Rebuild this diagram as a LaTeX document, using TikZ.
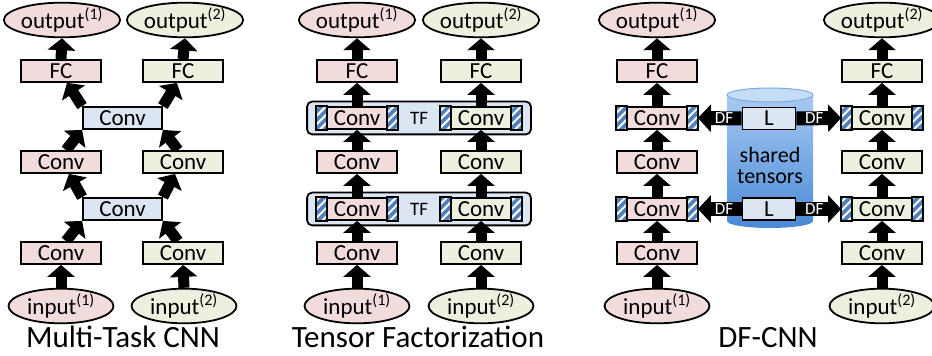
\documentclass[tikz,border=0pt]{standalone}
\usepackage{fontspec}
\setmainfont{Carlito}
\usetikzlibrary{arrows.meta,shapes.geometric,patterns.meta,backgrounds,fit}

\definecolor{taskA}{HTML}{F2DCDB}
\definecolor{taskB}{HTML}{EBF1DE}
\definecolor{shared}{HTML}{DCE6F2}
\definecolor{stripe}{HTML}{4F81BD}
\definecolor{tankTop}{HTML}{C5DCF6}
\definecolor{tankEdge}{HTML}{7FA9DE}
\definecolor{tankLight}{HTML}{A8C9F2}
\definecolor{tankDark}{HTML}{4A89D6}

\tikzset{
  netbox/.style={draw, line width=1.8pt, minimum width=80pt, minimum height=22pt,
    inner sep=0pt, font=\fontsize{23}{23}\selectfont},
  io/.style={draw, ellipse, line width=1.8pt, minimum width=105pt, minimum height=29pt,
    inner sep=0pt, font=\fontsize{23}{23}\selectfont},
  flow/.style={line width=11pt, -{Triangle[length=12pt,width=27pt]}},
  dfarrow/.style={line width=14pt, -{Triangle[length=13pt,width=27pt]}},
  hatch/.style={draw, line width=1.8pt, preaction={fill=stripe},
    pattern={Lines[angle=45,distance=6pt,line width=2pt]}, pattern color=white},
  tfgroup/.style={draw, fill=shared, line width=1.8pt, rounded corners=5pt,
    inner xsep=9pt, inner ysep=4.5pt},
  paneltitle/.style={anchor=base, font=\fontsize{31}{31}\selectfont},
}

% striped ends of a factorized / shared layer
\newcommand{\hatchends}[1]{%
  \draw[hatch] (#1.north west) rectangle ([xshift=11pt]#1.south west);
  \draw[hatch] (#1.north east) rectangle ([xshift=-11pt]#1.south east);}

\begin{document}
\begin{tikzpicture}[x=1pt,y=1pt]
  \useasboundingbox (0,0) rectangle (932,356);

  % --- multi-task CNN
  \node[io, fill=taskA] (in1) at (61,50) {input\textsuperscript{(1)}};
  \node[io, fill=taskB] (in2) at (184,50) {input\textsuperscript{(2)}};
  \node[netbox, fill=taskA] (c1a) at (61,103) {Conv};
  \node[netbox, fill=taskB] (c1b) at (183,103) {Conv};
  \node[netbox, fill=shared, minimum width=79pt] (s1) at (122.5,147) {Conv};
  \node[netbox, fill=taskA] (c2a) at (61,194) {Conv};
  \node[netbox, fill=taskB] (c2b) at (183,194) {Conv};
  \node[netbox, fill=shared, minimum width=79pt] (s2) at (122.5,238) {Conv};
  \node[netbox, fill=taskA] (fc1a) at (61,285) {FC};
  \node[netbox, fill=taskB] (fc1b) at (183,285) {FC};
  \node[io, fill=taskA] (out1a) at (62,336) {output\textsuperscript{(1)}};
  \node[io, fill=taskB] (out1b) at (185,336) {output\textsuperscript{(2)}};
  \node[paneltitle] (t1) at (123,8) {Multi-Task CNN};

  % --- tensor factorization
  \foreach \x/\c/\k in {357/taskA/1, 481/taskB/2}
    {
      \node[io, fill=\c] (tfin\k) at (\x,50) {input\textsuperscript{(\k)}};
      \node[netbox, fill=\c] (tfc\k) at (\x,103) {Conv};
      \node[netbox, fill=\c] (tfh\k) at (\x,147) {Conv};
      \node[netbox, fill=\c] (tfd\k) at (\x,194) {Conv};
      \node[netbox, fill=\c] (tfg\k) at (\x,238) {Conv};
      \node[netbox, fill=\c] (tffc\k) at (\x,285) {FC};
      \node[io, fill=\c] (tfout\k) at (\x,336) {output\textsuperscript{(\k)}};
      \hatchends{tfh\k}
      \hatchends{tfg\k}
    }
  \begin{scope}[on background layer]
    \node[tfgroup, fit=(tfh1)(tfh2)] (tf1) {};
    \node[tfgroup, fit=(tfg1)(tfg2)] (tf2) {};
  \end{scope}
  \node[font=\fontsize{19}{19}\selectfont] (tflab1) at (tf1) {TF};
  \node[font=\fontsize{19}{19}\selectfont] (tflab2) at (tf2) {TF};
  \node[paneltitle] (t2) at (418,8) {Tensor Factorization};

  % --- DF-CNN with the shared tensor store
  \shade[top color=tankLight, bottom color=tankDark]
    (727,261) -- (727,135) arc[start angle=180, end angle=360, x radius=43, y radius=7]
    -- (813,261) -- cycle;
  \draw[draw=tankEdge, fill=tankTop, line width=1pt] (770,261) ellipse [x radius=43, y radius=7];
  \node[align=center, font=\fontsize{22}{21}\selectfont] (tens) at (770,191) {shared\\tensors};
  \node[netbox, fill=shared, minimum width=53pt] (L1) at (769,147) {L};
  \node[netbox, fill=shared, minimum width=53pt] (L2) at (769,237.5) {L};

  \foreach \x/\c/\k in {657/taskA/1, 882/taskB/2}
    {
      \node[io, fill=\c] (dfin\k) at (\x,50) {input\textsuperscript{(\k)}};
      \node[netbox, fill=\c] (dfc\k) at (\x,103) {Conv};
      \node[netbox, fill=\c] (dfh\k) at (\x,147) {Conv};
      \node[netbox, fill=\c] (dfd\k) at (\x,194) {Conv};
      \node[netbox, fill=\c] (dfg\k) at (\x,238) {Conv};
      \node[netbox, fill=\c] (dffc\k) at (\x,285) {FC};
      \node[io, fill=\c] (dfout\k) at (\x,336) {output\textsuperscript{(\k)}};
      \hatchends{dfh\k}
      \hatchends{dfg\k}
    }
  \node[paneltitle] (t3) at (768,8) {DF-CNN};

  % deconvolution arrows out of the store
  \foreach \l/\r in {L1/h, L2/g}
    {
      \draw[dfarrow] (\l.west) -- (df\r1.east)
        node[pos=0.4, text=white, font=\fontsize{17}{17}\selectfont] {DF};
      \draw[dfarrow] (\l.east) -- (df\r2.west)
        node[pos=0.4, text=white, font=\fontsize{17}{17}\selectfont] {DF};
    }

  % data flow
  \begin{scope}[on background layer]
    \draw[flow] (in1.north) -- (c1a.south);
    \draw[flow] (in2.north) -- (c1b.south);
    \draw[flow] ([xshift=5pt]c1a.north) -- (s1.south west);
    \draw[flow] ([xshift=-5pt]c1b.north) -- (s1.south east);
    \draw[flow] (s1.north west) -- ([xshift=8pt]c2a.south);
    \draw[flow] (s1.north east) -- ([xshift=-8pt]c2b.south);
    \draw[flow] ([xshift=5pt]c2a.north) -- (s2.south west);
    \draw[flow] ([xshift=-5pt]c2b.north) -- (s2.south east);
    \draw[flow] (s2.north west) -- ([xshift=6pt]fc1a.south);
    \draw[flow] (s2.north east) -- ([xshift=-6pt]fc1b.south);
    \draw[flow] (fc1a.north) -- (out1a.south);
    \draw[flow] (fc1b.north) -- (out1b.south);
    \foreach \p in {tf, df}
      \foreach \k in {1,2}
        {
          \draw[flow] (\p in\k.north) -- (\p c\k.south);
          \draw[flow] (\p c\k.north) -- (\p h\k.south);
          \draw[flow] (\p h\k.north) -- (\p d\k.south);
          \draw[flow] (\p d\k.north) -- (\p g\k.south);
          \draw[flow] (\p g\k.north) -- (\p fc\k.south);
          \draw[flow] (\p fc\k.north) -- (\p out\k.south);
        }
  \end{scope}
\end{tikzpicture}
\end{document}
